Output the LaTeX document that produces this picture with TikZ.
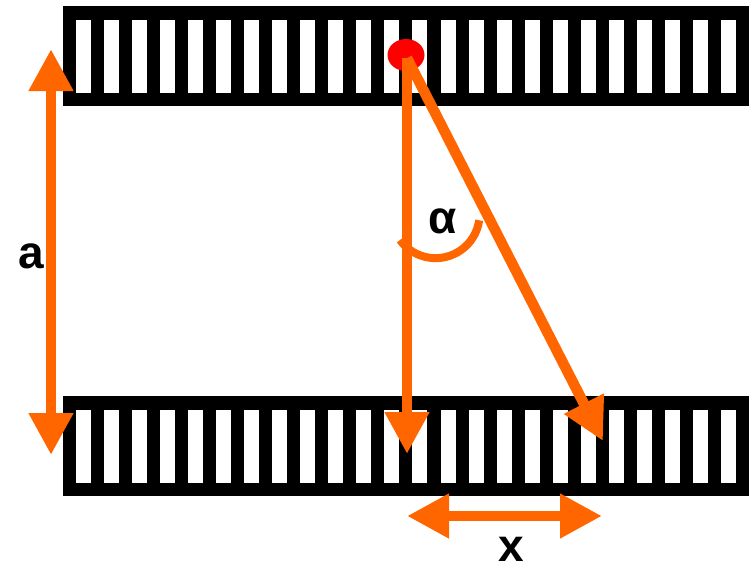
\documentclass[tikz,border=0pt]{standalone}
\usepackage{fontspec}
\setmainfont{Liberation Sans}
\usetikzlibrary{arrows.meta}
\definecolor{rayorange}{HTML}{FF6600}

\begin{document}
\begin{tikzpicture}[x=1pt,y=-1pt,line width=10.5pt,>={Triangle[length=42pt,width=42pt]},
  ray/.style={draw=rayorange},
  lab/.style={anchor=base,inner sep=0pt,font=\fontsize{46}{46}\selectfont\bfseries}]
  \useasboundingbox (0,0) rectangle (749,566);

  % the two slotted strips
  \foreach \y in {6,396} {
    \fill[black] (63,\y) rectangle (749,\y+100);
    \foreach \i in {0,...,23}
      \fill[white] ({76+28.04*\i},\y+14) rectangle +(15,73);
  }

  \coordinate (src) at (407,58);
  \coordinate (foot) at (407,454);
  \coordinate (hit) at (603,441);
  \coordinate (atop) at (51,49);
  \coordinate (abot) at (51,455);
  \coordinate (xl) at (407,516);
  \coordinate (xr) at (602,516);

  \fill[red] (406,55) ellipse [x radius=18.5,y radius=16];

  \draw[ray,<->] (atop) -- (abot);
  \draw[ray,->] (src) -- (foot);
  \draw[ray,->] (src) -- (hit);
  \draw[ray,<->] (xl) -- (xr);
  \draw[ray,line width=8pt] (400,240) arc[start angle=144,end angle=8,radius=44];

  \node[lab] (alab) at (31.5,268) {a};
  \node[lab] (alpha) at (443,233) {α};
  \node[lab] (xlab) at (511.5,561) {x};
\end{tikzpicture}
\end{document}
